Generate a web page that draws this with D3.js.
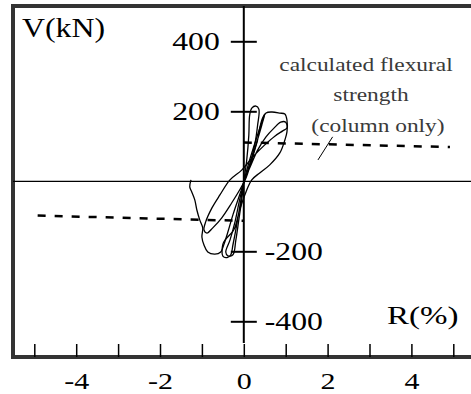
<!DOCTYPE html>
<html>
<head>
<meta charset="utf-8">
<script src="https://cdn.jsdelivr.net/npm/d3@7"></script>
<style>
  html, body { margin: 0; padding: 0; background: #fff; }
  svg { display: block; }
  svg text { font-family: 'Liberation Serif', serif !important; }
</style>
</head>
<body>
<div id="chart-area"></div>
<script>
// DATA (R in %, V in kN)
const xTicks = [-5, -4, -3, -2, -1, 0, 1, 2, 3, 4, 5]
const xLabels = [-4, -2, 0, 2, 4]
const yTicksLeft = [400, 200]
const yTicksRight = [-200, -400]

// first small cycles
const cycle1 = [[0, 0], [0.07, 61], [0.12, 132], [0.14, 189], [0.19, 209], [0.29, 215], [0.36, 206],
  [0.33, 161], [0.26, 104], [0.14, 47], [0.02, 4], [-0.1, -53], [-0.21, -116], [-0.33, -168],
  [-0.43, -202], [-0.38, -213], [-0.26, -210], [-0.19, -168], [-0.12, -111], [-0.05, -53], [0, 0]]

// cycle with flat top near +1%
const cycle2 = [[0, 0], [0.14, 61], [0.29, 118], [0.43, 169], [0.53, 195], [0.67, 198], [0.86, 195],
  [0.98, 192], [1.03, 175], [1.03, 141], [0.98, 118], [0.86, 81], [0.62, 47], [0.38, 24], [0.19, 4],
  [0.05, -31], [-0.1, -82], [-0.24, -139], [-0.43, -165], [-0.5, -180], [-0.5, -214], [-0.4, -218],
  [-0.31, -210], [-0.26, -182], [-0.17, -125], [-0.07, -53], [0, 0]]

// inner loop, long diagonal to about -0.9%
const cycle3 = [[0, 0], [0.14, 38], [0.33, 89], [0.53, 127], [0.72, 152], [0.88, 169], [1.0, 169],
  [1.03, 152], [0.93, 144], [0.74, 129], [0.5, 104], [0.21, 69], [-0.05, 32], [-0.33, 4],
  [-0.57, -39], [-0.76, -76], [-0.91, -116], [-0.95, -139], [-0.88, -148], [-0.74, -133],
  [-0.53, -105], [-0.29, -62], [-0.1, -25], [0.05, 9], [0.19, 61], [0.33, 118]]

// last cycle, strength loss on the negative side
const cycle4 = [[0.33, 118], [0.43, 175], [0.5, 192], [0.43, 161], [0.29, 104], [0.1, 32],
  [-0.1, -39], [-0.26, -96], [-0.38, -145], [-0.48, -182], [-0.55, -202], [-0.69, -208],
  [-0.86, -202], [-0.95, -182], [-1.0, -159], [-0.98, -133], [-1.05, -111], [-1.12, -82],
  [-1.17, -53], [-1.24, -31], [-1.29, -16], [-1.26, 4]]

// calculated flexural strength (column only)
const calcPos = [[0, 111], [4.92, 98]]
const calcNeg = [[-4.92, -98], [0, -113]]
const leader = [[1.77, 61], [2.12, 127]]

const W = 471
const H = 394
const frame = { left: 13, top: 6, bottom: 357 }

const svg = d3.select('#chart-area')
              .append('svg')
              .attr('width', W)
              .attr('height', H)

const x = d3.scaleLinear().domain([-5, 5]).range([34.3, 453.3])
const y = d3.scaleLinear().domain([-400, 400]).range([321.3, 41.3])

// stretch glyphs horizontally like the scanned original
const stretch = (sel, k) => sel.each(function () {
  const w = this.getComputedTextLength()
  d3.select(this).attr('textLength', w * k).attr('lengthAdjust', 'spacingAndGlyphs')
})

// FRAME (open on the right)
svg.append('path')
   .attr('d', `M${W + 5},${frame.top} H${frame.left} V${frame.bottom} H${W + 5}`)
   .attr('fill', 'none')
   .attr('stroke', '#333')
   .attr('stroke-width', 4)

// ZERO LINE + VERTICAL AXIS
svg.append('line')
   .attr('x1', frame.left).attr('x2', W)
   .attr('y1', y(0)).attr('y2', y(0))
   .attr('stroke', '#000').attr('stroke-width', 1.2)

svg.append('line')
   .attr('x1', x(0)).attr('x2', x(0))
   .attr('y1', frame.top).attr('y2', 343)
   .attr('stroke', '#000').attr('stroke-width', 2)

// X AXIS (ticks up from bottom border)
const xAxisGroup = svg.append('g')
   .attr('transform', `translate(0,${frame.bottom})`)
   .call(d3.axisBottom(x)
           .tickValues(xTicks)
           .tickSizeInner(-13)
           .tickSizeOuter(0)
           .tickPadding(15)
           .tickFormat(d => xLabels.includes(d) ? String(d) : ''))
xAxisGroup.attr('font-family', null).attr('font-size', null)
xAxisGroup.select('.domain').remove()
xAxisGroup.selectAll('line').attr('stroke', '#000').attr('stroke-width', 1.5)
xAxisGroup.selectAll('text')
   .attr('font-size', 24)
   .attr('fill', '#000')
   .call(stretch, 1.25)

// Y AXIS (cross ticks, labels left for +, right for -)
const yLeft = svg.append('g')
   .attr('transform', `translate(${x(0)},0)`)
   .call(d3.axisLeft(y).tickValues(yTicksLeft).tickSize(13).tickPadding(11).tickFormat(d => String(d)))
const yRight = svg.append('g')
   .attr('transform', `translate(${x(0)},0)`)
   .call(d3.axisRight(y).tickValues(yTicksRight).tickSize(13).tickPadding(8).tickFormat(d => String(d)))

;[yLeft, yRight].forEach(g => {
  g.attr('font-family', null).attr('font-size', null)
  g.select('.domain').remove()
  g.selectAll('line').attr('x1', -13).attr('x2', 13).attr('stroke', '#000').attr('stroke-width', 2)
  g.selectAll('text')
   .attr('font-size', 26)
   .attr('fill', '#000')
   .call(stretch, 1.22)
})

// HYSTERESIS TRACE
const line = d3.line()
               .x(d => x(d[0]))
               .y(d => y(d[1]))
               .curve(d3.curveCatmullRom.alpha(0.5))

;[cycle1, cycle2, cycle3, cycle4].forEach(c => {
  svg.append('path')
     .attr('d', line(c))
     .attr('fill', 'none')
     .attr('stroke', '#000')
     .attr('stroke-width', 1.3)
})

// CALCULATED STRENGTH (dashed)
const straight = d3.line().x(d => x(d[0])).y(d => y(d[1]))
;[calcPos, calcNeg].forEach(c => {
  svg.append('path')
     .attr('d', straight(c))
     .attr('fill', 'none')
     .attr('stroke', '#000')
     .attr('stroke-width', 2.5)
     .attr('stroke-dasharray', '8,9')
})

svg.append('path')
   .attr('d', straight(leader))
   .attr('stroke', '#000')
   .attr('stroke-width', 1)

// TEXT LABELS
svg.append('text')
   .attr('x', 22).attr('y', 37)
   .attr('font-size', 27)
   .text('V(kN)')
   .call(stretch, 1.18)

svg.append('text')
   .attr('x', 387).attr('y', 324)
   .attr('font-size', 26)
   .text('R(%)')
   .call(stretch, 1.27)

const note = ['calculated flexural', 'strength', '(column only)']
const noteX = [366, 371, 378]
const noteY = [71, 101, 132]
note.forEach((t, i) => {
  svg.append('text')
     .attr('x', noteX[i]).attr('y', noteY[i])
     .attr('text-anchor', 'middle')
     .attr('font-size', 19.5)
     .attr('fill', '#3a3a3a')
     .text(t)
     .call(stretch, 1.2)
})
</script>
</body>
</html>
